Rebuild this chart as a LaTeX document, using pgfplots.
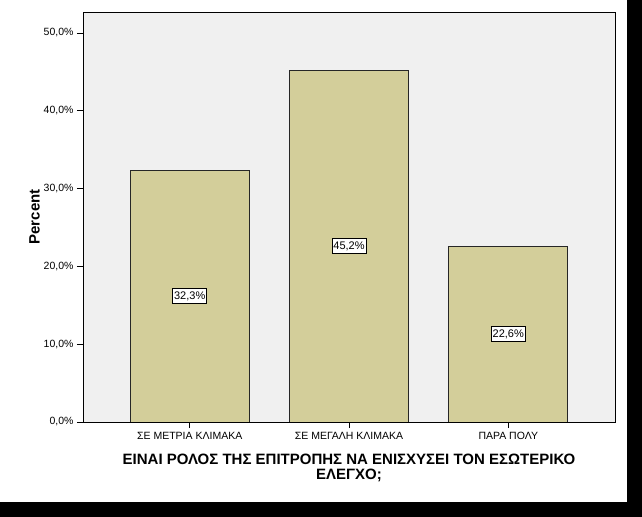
\documentclass[border=0pt]{standalone}
\usepackage{fontspec}
\setmainfont{Liberation Sans}
\usepackage{pgfplots}
\pgfplotsset{compat=1.18}

\definecolor{barfill}{HTML}{D3CE9A}
\definecolor{plotbg}{HTML}{F0F0F0}

\begin{document}
\begin{tikzpicture}
\path[use as bounding box] (0,0) rectangle (642bp,517bp);
\fill[white] (0,15bp) rectangle (627bp,517bp);
\fill[black] (627bp,0) rectangle (642bp,517bp);
\fill[black] (0,0) rectangle (642bp,15bp);
\begin{axis}[
  at={(83bp,95bp)}, anchor=south west,
  scale only axis,
  width=532bp, height=410bp,
  xmin=-0.67, xmax=2.67,
  ymin=0, ymax=52.7,
  axis background/.style={fill=plotbg},
  axis line style={black, line width=0.9bp},
  tick style={black, line width=0.9bp},
  tick align=outside,
  major tick length=6bp,
  xtick pos=bottom, ytick pos=left,
  xtick={0,1,2},
  xticklabels={ΣΕ ΜΕΤΡΙΑ ΚΛΙΜΑΚΑ, ΣΕ ΜΕΓΑΛΗ ΚΛΙΜΑΚΑ, ΠΑΡΑ ΠΟΛΥ},
  ytick={0,10,20,30,40,50},
  yticklabels={{0,0\%},{10,0\%},{20,0\%},{30,0\%},{40,0\%},{50,0\%}},
  tick label style={font=\fontsize{10.5bp}{12bp}\selectfont},
  xticklabel style={yshift=-1bp},
  ylabel={Percent},
  ylabel style={font=\bfseries\fontsize{15bp}{17bp}\selectfont, yshift=-3bp},
  xlabel={ΕΙΝΑΙ ΡΟΛΟΣ ΤΗΣ ΕΠΙΤΡΟΠΗΣ ΝΑ ΕΝΙΣΧΥΣΕΙ ΤΟΝ ΕΣΩΤΕΡΙΚΟ\\ΕΛΕΓΧΟ;},
  xlabel style={font=\bfseries\fontsize{15bp}{15.5bp}\selectfont, align=center, yshift=-7bp},
  ybar, bar width=119bp,
  point meta=explicit symbolic,
  visualization depends on={rawy \as \rawy},
  nodes near coords,
  every node near coord/.append style={
    anchor=center, draw=black, fill=white, line width=0.8bp,
    inner xsep=1.5bp, inner ysep=3bp, font=\fontsize{11bp}{12bp}\selectfont,
    shift={(axis direction cs:0,-\rawy/2)}},
]
\addplot[fill=barfill, draw=black!85, line width=0.8bp]
  coordinates {(0,32.3)[32,3\%] (1,45.2)[45,2\%] (2,22.6)[22,6\%]};
\end{axis}
\end{tikzpicture}
\end{document}
